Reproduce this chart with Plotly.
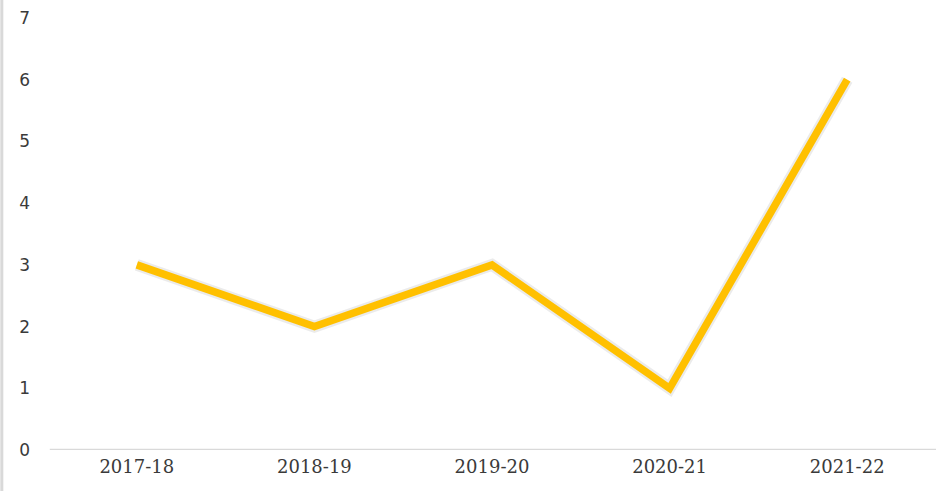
import plotly.graph_objects as go

years = ["2017-18", "2018-19", "2019-20", "2020-21", "2021-22"]
values = [3, 2, 3, 1, 6]
y_ticks = [0, 1, 2, 3, 4, 5, 6, 7]

fig = go.Figure()
fig.add_trace(go.Scatter(
    x=years, y=values, mode="lines",
    line=dict(color="rgba(0,0,0,0.08)", width=12),
    hoverinfo="skip", showlegend=False,
))
fig.add_trace(go.Scatter(
    x=years, y=values, mode="lines",
    line=dict(color="#FFC000", width=7.5),
    showlegend=False,
))

fig.update_layout(
    width=936, height=491,
    margin=dict(l=48, r=0, t=18, b=41, autoexpand=False),
    paper_bgcolor="white", plot_bgcolor="white",
    font=dict(family="DejaVu Serif", size=18, color="#3a3a3a"),
    xaxis=dict(
        type="category", range=[-0.5, 4.5], automargin=False,
        showgrid=False, zeroline=False,
        showline=False, ticks="", tickfont=dict(size=18),
        ticklabelstandoff=4,
    ),
    yaxis=dict(
        range=[0, 7], tickvals=y_ticks, automargin=False,
        showgrid=False, zeroline=False, showline=False,
        ticks="", tickfont=dict(size=17, family="DejaVu Sans"),
        ticklabelstandoff=17,
    ),
    shapes=[
        dict(type="line", xref="paper", yref="y", x0=0.002, x1=1, y0=0, y1=0,
             line=dict(color="#d9d9d9", width=2.5), layer="below"),
        dict(type="line", xref="paper", yref="paper", x0=-0.052, x1=-0.052,
             y0=-0.2, y1=1.2, line=dict(color="#d9d9d9", width=3)),
    ],
)

fig.write_html("out.html", config={"displayModeBar": False},
               post_script="document.body.style.margin='0';document.body.style.overflow='hidden';")
